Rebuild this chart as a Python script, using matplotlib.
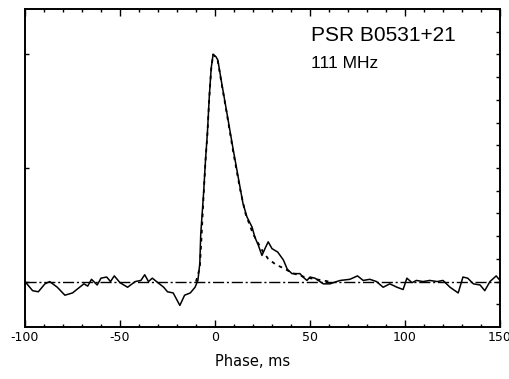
import matplotlib
matplotlib.use("Agg")
import matplotlib.pyplot as plt
import numpy as np

# Observed profile (phase in ms, relative intensity)
phase_obs = [-100, -96, -93, -89.5, -87, -83, -79, -75, -72, -69, -67, -65, -62, -60, -57,
             -55, -53, -50, -46, -42, -39, -37, -35, -33, -30, -27, -25, -22, -18.5, -16,
             -13, -10.5, -9, -8, -7.5, -6, -5, -4, -3, -2, -1, 0.5, 1.5, 3.5, 6, 9.5,
             14.7, 16.8, 19.5, 21, 22.8, 24.7, 26.3, 28, 30, 33, 36, 38, 40.5, 44.7, 46.3,
             48.4, 50, 52.6, 57, 60.5, 64, 66, 71, 75, 78, 81.5, 85, 88.5, 92, 95.8, 99,
             101, 103.7, 106, 109.5, 113, 117, 120, 123.7, 128, 130.5, 133, 136, 139.5,
             142, 144.7, 148, 150]
intens_obs = [0.0, -0.08, -0.09, -0.02, 0.0, -0.05, -0.12, -0.10, -0.06, -0.02, -0.04, 0.02,
              -0.03, 0.03, 0.04, 0.0, 0.05, -0.01, -0.05, 0.0, 0.01, 0.06, 0.0, 0.03, -0.01,
              -0.05, -0.09, -0.10, -0.21, -0.12, -0.10, -0.05, 0.01, 0.16, 0.42, 0.78, 1.07,
              1.31, 1.63, 1.88, 2.0, 1.98, 1.95, 1.75, 1.51, 1.17,
              0.69, 0.57, 0.48, 0.39, 0.32, 0.23, 0.29, 0.35, 0.29, 0.26, 0.19, 0.11,
              0.07, 0.07, 0.04, 0.01, 0.04, 0.03, -0.02, -0.02, 0.0, 0.01, 0.02, 0.05, 0.01,
              0.02, 0.0, -0.05, -0.02, -0.05, -0.07, 0.03, -0.01, 0.01, 0.0, 0.01, 0.0, 0.01,
              -0.05, -0.10, 0.04, 0.03, -0.02, -0.03, -0.08, 0.0, 0.05, 0.01]

# Model (scattered pulse fit)
phase_fit = [-10, -8, -7, -6, -5, -4, -3, -2, -1, 0, 1.5, 3.5, 6, 9.5, 13, 16, 20, 25, 28,
             32, 37, 40, 45, 50, 60]
intens_fit = [0.0, 0.12, 0.42, 0.76, 1.06, 1.30, 1.62, 1.87, 2.0, 1.98, 1.94, 1.74, 1.50,
              1.15, 0.83, 0.60, 0.42, 0.27, 0.20, 0.15, 0.11, 0.08, 0.05, 0.03, 0.0]

xticks = [-100, -50, 0, 50, 100, 150]
xticklabels = ["-100", "-50", "0", "50", "100", "150"]

fig = plt.figure(figsize=(5.1, 3.79), dpi=100)
ax = fig.add_axes([25/510, 1-327/379, 475/510, 318/379])
ax.set_xlim(-100, 150)
ax.set_ylim(-0.4, 2.4)

ax.axhline(0, color="black", lw=1.0, ls=(0, (8, 2, 1.5, 2)))
ax.plot(phase_fit, intens_fit, color="black", lw=1.3, ls=(0, (2, 2.5)))
ax.plot(phase_obs, intens_obs, color="black", lw=1.1)

for s in ax.spines.values():
    s.set_linewidth(1.4)

ax.set_xticks(xticks)
ax.set_xticklabels(xticklabels)
ax.set_xticks(np.arange(-100, 151, 10), minor=True)
ax.set_yticks([0, 1, 2])
ax.set_yticklabels([])
ax.tick_params(axis="x", which="major", direction="in", length=5, width=1, top=True,
               labelsize=9, pad=3)
ax.tick_params(axis="x", which="minor", direction="in", length=2.5, width=1, top=True)
ax.tick_params(axis="y", which="both", direction="in", length=3, width=1, left=True,
               right=False)

ax2 = ax.twinx()
ax2.set_ylim(-0.4, 2.4)
ax2.set_yticks(np.arange(-0.2, 2.41, 0.2))
ax2.set_yticklabels([])
ax2.tick_params(axis="y", direction="in", length=3, width=1)
for s in ax2.spines.values():
    s.set_visible(False)

ax.set_xlabel("Phase, ms", fontsize=10.5)
ax.xaxis.set_label_coords((253 - 25) / 475, -(362 - 327) / 318)
ax.xaxis.label.set_va("center")

ax.text(0.602, 0.917, "PSR B0531+21", transform=ax.transAxes, fontsize=15,
        family="Liberation Sans", ha="left", va="center")
ax.text(0.602, 0.829, "111 MHz", transform=ax.transAxes, fontsize=12.5,
        family="Liberation Sans", ha="left", va="center")

fig.savefig("out.png", dpi=100)
